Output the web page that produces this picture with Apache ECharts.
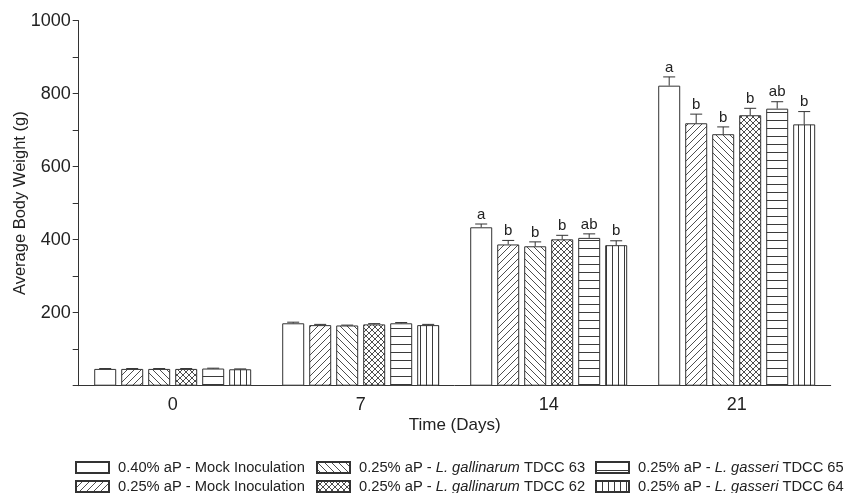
<!DOCTYPE html>
<html>
<head>
<meta charset="utf-8">
<script src="https://cdn.jsdelivr.net/npm/echarts@6/dist/echarts.min.js"></script>
<style>
html,body{margin:0;padding:0;background:#fff;}
#chart{width:844px;height:493px;}
</style>
</head>
<body>
<div id="chart"></div>
<script>
// ---------- data ----------
const categories = ['0', '7', '14', '21'];
const seriesNames = [
  '0.40% aP - Mock Inoculation',
  '0.25% aP - Mock Inoculation',
  '0.25% aP - L. gallinarum TDCC 63',
  '0.25% aP - L. gallinarum TDCC 62',
  '0.25% aP - L. gasseri TDCC 65',
  '0.25% aP - L. gasseri TDCC 64'
];
const mock040 = [46, 171, 434, 822];
const mock025 = [46, 166, 387, 719];
const gall63  = [46, 165, 382, 689];
const gall62  = [46, 168, 401, 741];
const gass65  = [47, 171, 405, 759];
const gass64  = [45, 166, 385, 716];

const semMock040 = [1, 3, 9, 24];
const semMock025 = [1, 2, 11, 25];
const semGall63  = [1, 1, 12, 20];
const semGall62  = [1, 2, 11, 19];
const semGass65  = [1, 2, 11, 19];
const semGass64  = [1, 2, 12, 35];

const lettersMock040 = ['', '', 'a', 'a'];
const lettersMock025 = ['', '', 'b', 'b'];
const lettersGall63  = ['', '', 'b', 'b'];
const lettersGall62  = ['', '', 'b', 'b'];
const lettersGass65  = ['', '', 'ab', 'ab'];
const lettersGass64  = ['', '', 'b', 'b'];

const yTicks = [0, 200, 400, 600, 800, 1000];

const values = [mock040, mock025, gall63, gall62, gass65, gass64];
const sems = [semMock040, semMock025, semGall63, semGall62, semGass65, semGass64];
const letters = [lettersMock040, lettersMock025, lettersGall63, lettersGall62, lettersGass65, lettersGass64];

// ---------- patterns ----------
const INK = '#3a3a3a';
function makePattern(kind) {
  const c = document.createElement('canvas');
  const ctx = c.getContext('2d');
  let s;
  if (kind === 'blank') {
    c.width = c.height = 4;
    ctx.fillStyle = '#fff'; ctx.fillRect(0, 0, 4, 4);
    return c;
  }
  if (kind === 'fwd' || kind === 'back' || kind === 'cross') {
    s = kind === 'cross' ? 6 : 7;
    c.width = c.height = s;
    ctx.fillStyle = '#fff'; ctx.fillRect(0, 0, s, s);
    ctx.strokeStyle = INK; ctx.lineWidth = 0.9;
    ctx.beginPath();
    if (kind === 'fwd' || kind === 'cross') {
      ctx.moveTo(0, s); ctx.lineTo(s, 0);
      ctx.moveTo(-1, 1); ctx.lineTo(1, -1);
      ctx.moveTo(s - 1, s + 1); ctx.lineTo(s + 1, s - 1);
    }
    if (kind === 'back' || kind === 'cross') {
      ctx.moveTo(0, 0); ctx.lineTo(s, s);
      ctx.moveTo(-1, s - 1); ctx.lineTo(1, s + 1);
      ctx.moveTo(s - 1, -1); ctx.lineTo(s + 1, 1);
    }
    ctx.stroke();
    return c;
  }
  if (kind === 'horiz') {
    c.width = 8; c.height = 8;
    ctx.fillStyle = '#fff'; ctx.fillRect(0, 0, 8, 8);
    ctx.fillStyle = INK; ctx.fillRect(0, 0, 8, 1);
    return c;
  }
  if (kind === 'vert') {
    c.width = 6; c.height = 6;
    ctx.fillStyle = '#fff'; ctx.fillRect(0, 0, 6, 6);
    ctx.fillStyle = INK; ctx.fillRect(0, 0, 1, 6);
    return c;
  }
}
const patternKinds = ['blank', 'fwd', 'back', 'cross', 'horiz', 'vert'];

const BAR_W = 22, BAR_GAP = 5;
const series = [];
values.forEach((vals, i) => {
  series.push({
    type: 'bar',
    name: seriesNames[i],
    data: vals,
    barWidth: BAR_W,
    barGap: (BAR_GAP / BAR_W * 100).toFixed(1) + '%',
    itemStyle: {
      color: { image: makePattern(patternKinds[i]), repeat: 'repeat' },
      borderColor: '#333',
      borderWidth: 1
    },
    silent: true
  });
});
values.forEach((vals, i) => {
  series.push({
    type: 'custom',
    silent: true,
    z: 5,
    data: vals.map((v, j) => [j, v, sems[i][j]]),
    encode: { x: 0, y: 1 },
    renderItem: function (params, api) {
      const j = api.value(0), mean = api.value(1), s = api.value(2);
      const base = api.coord([j, mean]);
      const top = api.coord([j, mean + s]);
      const cx = base[0] + (i - 2.5) * (BAR_W + BAR_GAP);
      const lbl = letters[i][params.dataIndex];
      const children = [
        { type: 'line', shape: { x1: cx, y1: base[1], x2: cx, y2: top[1] }, style: { stroke: '#333', lineWidth: 1 } },
        { type: 'line', shape: { x1: cx - 6, y1: top[1], x2: cx + 6, y2: top[1] }, style: { stroke: '#333', lineWidth: 1 } }
      ];
      if (lbl) {
        children.push({
          type: 'text',
          style: { text: lbl, x: cx, y: top[1] - 2, align: 'center', verticalAlign: 'bottom',
                   fontSize: 15, fontFamily: 'Liberation Sans, Arial, sans-serif', fill: '#222' }
        });
      }
      return { type: 'group', children: children };
    }
  });
});

function legendFmt(name) {
  return name.replace(/(L\. (gallinarum|gasseri))/, '{i|$1}');
}
const LEG_FONT = 14.7;
const legendCommon = {
  orient: 'horizontal',
  icon: 'rect',
  itemWidth: 33,
  itemHeight: 11,
  selectedMode: false,
  padding: 0,
  formatter: legendFmt,
  textStyle: {
    fontSize: LEG_FONT, color: '#222', fontFamily: 'Liberation Sans, Arial, sans-serif',
    padding: [0, 0, 0, 4],
    rich: { i: { fontStyle: 'italic', fontSize: LEG_FONT, color: '#222', fontFamily: 'Liberation Sans, Arial, sans-serif' } }
  }
};
const legendLeft = [75, 75, 316, 316, 595, 595];
const legendTop = [460, 479, 460, 479, 460, 479];
const legends = seriesNames.map((n, k) =>
  Object.assign({}, legendCommon, { left: legendLeft[k], top: legendTop[k], data: [n] }));

const chart = echarts.init(document.getElementById('chart'));
chart.setOption({
  backgroundColor: '#fff',
  animation: false,
  textStyle: { fontFamily: 'Liberation Sans, Arial, sans-serif' },
  grid: { left: 78.7, right: 13.3, top: 20.7, bottom: 107.3, outerBoundsMode: 'none', containLabel: false },
  legend: legends,
  xAxis: {
    type: 'category',
    data: categories,
    name: 'Time (Days)',
    nameLocation: 'middle',
    nameGap: 31,
    nameMoveOverlap: false,
    nameTextStyle: { fontSize: 17, color: '#222' },
    axisLine: { lineStyle: { color: '#333', width: 1 } },
    axisTick: { alignWithLabel: true, length: 5, lineStyle: { color: '#333' } },
    axisLabel: { fontSize: 18, color: '#222', margin: 10 }
  },
  yAxis: {
    type: 'value',
    min: yTicks[0],
    max: yTicks[yTicks.length - 1],
    interval: yTicks[1] - yTicks[0],
    name: 'Average Body Weight (g)',
    nameLocation: 'middle',
    nameGap: 50,
    nameMoveOverlap: false,
    nameTextStyle: { fontSize: 16.5, color: '#222' },
    axisLine: { show: true, lineStyle: { color: '#333', width: 1 } },
    axisTick: { show: true, length: 6, lineStyle: { color: '#333' } },
    minorTick: { show: true, splitNumber: 2, length: 6, lineStyle: { color: '#333' } },
    splitLine: { show: false },
    axisLabel: { fontSize: 18, color: '#222', margin: 8, formatter: v => (v === 0 ? '' : String(v)) }
  },
  series: series
});
</script>
</body>
</html>
